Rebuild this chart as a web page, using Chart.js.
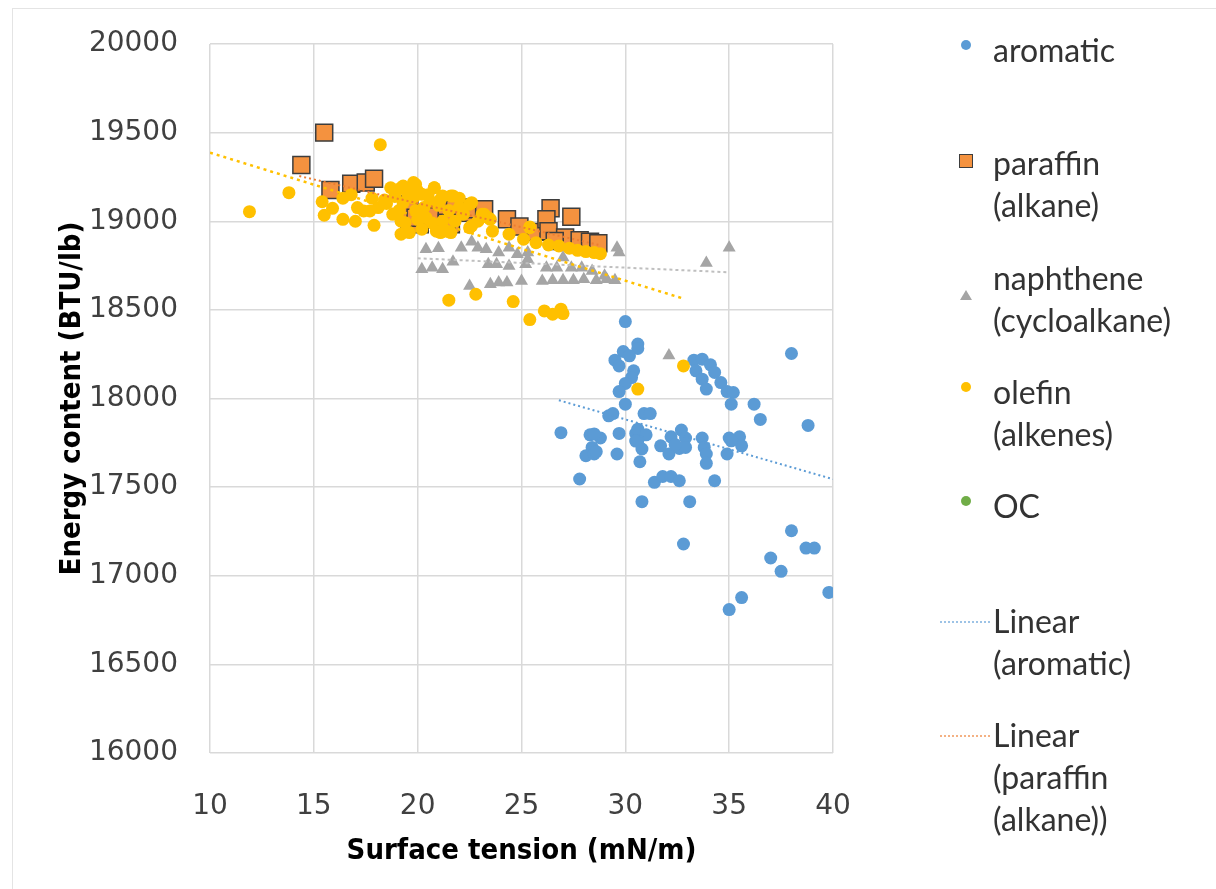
<!DOCTYPE html>
<html><head><meta charset="utf-8">
<script src="https://cdn.jsdelivr.net/npm/chart.js@4"></script>
<style>
html,body{margin:0;padding:0;background:#fff;width:1216px;height:889px;overflow:hidden;}
#frame{position:absolute;left:12px;top:8px;width:1204px;height:881px;border-top:1px solid #e4e4e4;border-left:1px solid #e4e4e4;box-sizing:border-box;}
#wrap{position:absolute;left:0;top:0;width:880px;height:889px;}
#legend{position:absolute;left:0;top:0;width:1216px;height:889px;font-family:Lato,'Open Sans',sans-serif;font-size:32px;color:#333;}
.lt{position:absolute;left:993px;line-height:42px;white-space:pre;}
.mk{position:absolute;}
</style>
</head><body>
<div id="frame"></div>
<div id="wrap"><canvas id="c" width="880" height="889"></canvas></div>
<div id="legend"></div>
<script>
// ---- data (x: surface tension mN/m, y: energy content BTU/lb) ----
const aromatic = [
[30.0,18434],[30.6,18307],[30.6,18282],[29.9,18265],[29.5,18216],[30.2,18241],[29.7,18184],[30.4,18156],
[30.3,18118],[30.0,18085],[29.7,18039],[30.0,17968],[29.2,17902],[29.4,17915],[30.9,17915],[31.2,17915],
[26.9,17807],[28.3,17795],[28.8,17777],[28.4,17724],[28.1,17677],[28.5,17687],[29.7,17803],[29.6,17687],
[30.5,17803],[30.6,17827],[31.0,17795],[30.6,17761],[30.8,17715],[30.7,17643],[27.8,17546],[31.7,17733],
[32.2,17784],[32.7,17822],[32.9,17777],[32.1,17687],[32.6,17718],[32.9,17724],[33.7,17777],[33.8,17724],
[33.9,17687],[33.9,17634],[34.3,17536],[31.4,17527],[31.8,17560],[32.2,17560],[32.6,17536],[30.8,17418],
[33.1,17418],[32.8,17179],[34.9,17687],[35.0,17777],[35.5,17784],[35.6,17733],[35.1,17761],[33.3,18216],
[33.7,18222],[33.4,18156],[34.1,18190],[34.3,18147],[33.7,18109],[33.9,18053],[34.6,18090],[34.9,18039],
[35.2,18034],[35.1,17968],[36.2,17968],[36.5,17882],[38.0,18254],[38.8,17848],[38.0,17254],[38.7,17156],
[39.1,17156],[37.0,17100],[37.5,17025],[39.8,16906],[35.6,16877],[35.0,16809],[28.5,17800],[28.6,17700],
[30.5,17760],[32.4,17740]
];
const paraffin = [
[14.4,19317],[15.5,19500],[15.8,19176],[16.8,19212],[17.5,19218],[17.9,19240],[19.6,19077],[19.5,19096],
[20.8,19028],[21.4,19077],[22.0,19077],[22.4,19048],[22.7,19068],[19.6,19000],[20.1,18983],[21.6,18983],
[19.9,19020],[21.8,19068],[21.4,18992],[23.2,19068],[24.3,19011],[24.9,18970],[25.7,18940],[26.4,19073],
[26.2,19011],[26.3,18944],[27.4,19025],[27.1,18908],[27.8,18893],[28.3,18885],[28.7,18876],[26.6,18889]
];
const naphthene = [
[20.4,18842],[21.0,18848],[22.1,18851],[22.6,18885],[22.9,18851],[23.3,18842],[23.9,18823],[24.4,18851],
[24.8,18814],[25.3,18823],[29.6,18851],[29.7,18823],[20.2,18729],[20.7,18738],[21.2,18729],[21.7,18772],
[23.4,18758],[23.8,18758],[24.4,18748],[25.2,18758],[25.3,18786],[26.2,18738],[26.7,18738],[27.0,18795],
[27.4,18738],[27.9,18738],[28.4,18720],[29.0,18692],[29.5,18667],[22.5,18635],[23.5,18645],[23.9,18654],
[24.3,18654],[25.0,18663],[26.0,18663],[26.5,18667],[27.0,18667],[27.5,18667],[28.0,18673],[28.6,18667],
[29.1,18673],[33.9,18765],[35.0,18850],[32.1,18242]
];
const olefin = [
[11.9,19054],[13.8,19161],[18.2,19432],[15.4,19110],[15.5,19034],[15.9,19073],[16.4,19011],[16.4,19130],
[16.8,19150],[17.0,19000],[17.9,18977],[17.8,19130],[17.1,19077],[17.4,19058],[17.7,19058],[18.1,19077],
[18.7,19189],[18.8,19039],[19.2,19189],[19.3,19105],[19.9,19208],[19.8,19133],[19.2,18927],[19.6,18936],
[19.4,18992],[20.2,19152],[20.3,19077],[20.2,18955],[20.8,19189],[20.6,19114],[21.1,19124],[20.9,18944],
[21.4,18944],[21.2,19000],[21.7,19143],[22.0,19077],[22.6,19105],[22.5,18964],[22.6,18974],[23.2,19039],
[23.5,19011],[23.6,18944],[24.4,18927],[25.1,18899],[25.4,18968],[25.7,18879],[26.3,18866],[26.8,18861],
[27.3,18848],[27.7,18836],[28.1,18829],[28.5,18823],[28.8,18817],[21.5,18555],[22.8,18588],[24.6,18547],
[25.4,18445],[26.1,18494],[26.5,18476],[26.9,18504],[27.0,18479],[30.6,18053],[32.8,18184],[19.3,19199],
[19.8,19218],[20.8,19189],[21.2,19143],[21.6,19143],[22.0,19130],[22.5,19096],[19.2,19000],[21.1,18936],
[21.6,18936],[23.1,19039],[23.4,19020],[20.0,19011],[25.4,18964],[19.5,19160],[20.0,19170],[20.5,19150],
[21.0,19090],[21.5,19060],[19.9,19060],[20.4,19020],[22.2,19040],[22.9,19000],[21.8,19000],[20.7,18990],
[18.4,19120],[18.9,19140],[19.1,19060],[18.5,19100]
];
const oc = [];
// linear trendlines (end points)
const trendAromatic = [[26.8,17990],[40.0,17545]];
const trendParaffin = [[14.3,19255],[28.7,18867]];
const trendOlefin = [[10.0,19387],[32.7,18567]];
const trendNaphthene = [[20.0,18791],[35.0,18712]];
// axes
const xTicks = [10,15,20,25,30,35,40];
const yTicks = [16000,16500,17000,17500,18000,18500,19000,19500,20000];
const xTitle = 'Surface tension (mN/m)';
const yTitle = 'Energy content (BTU/lb)';
const legendItems = [
  {text:'aromatic', marker:'circle', color:'#5B9BD5'},
  {text:'paraffin\n(alkane)', marker:'square', color:'#F4923F'},
  {text:'naphthene\n(cycloalkane)', marker:'triangle', color:'#A5A5A5'},
  {text:'olefin\n(alkenes)', marker:'circle', color:'#FFC000'},
  {text:'OC', marker:'circle', color:'#70AD47'},
  {text:'Linear\n(aromatic)', marker:'line', color:'#9DC3E6'},
  {text:'Linear\n(paraffin\n(alkane))', marker:'line', color:'#F4B183'}
];

const pts = a => a.map(([x,y]) => ({x, y}));
const tickFont = {family:'DejaVu Sans', size:28};
const titleFont = {family:"'Liberation Sans Narrow','DejaVu Sans Condensed',sans-serif", size:29, weight:'bold'};

new Chart(document.getElementById('c'), {
  type:'scatter',
  data:{datasets:[
    {label:'aromatic', data:pts(aromatic), pointStyle:'circle', pointRadius:6.5, backgroundColor:'#5B9BD5', borderWidth:0, order:5},
    {label:'paraffin (alkane)', data:pts(paraffin), pointStyle:'rect', pointRadius:12, backgroundColor:'#F4923F', borderColor:'#3d3d3d', borderWidth:1.5, order:4},
    {label:'naphthene (cycloalkane)', data:pts(naphthene), pointStyle:'triangle', pointRadius:7.5, backgroundColor:'#A5A5A5', borderWidth:0, order:3},
    {label:'olefin (alkenes)', data:pts(olefin), pointStyle:'circle', pointRadius:6.5, backgroundColor:'#FFC000', borderWidth:0, order:2},
    {label:'OC', data:pts(oc), pointStyle:'circle', pointRadius:6.5, backgroundColor:'#70AD47', borderWidth:0, order:1},
    {label:'Linear (aromatic)', data:pts(trendAromatic), showLine:true, pointRadius:0, borderColor:'#5B9BD5', borderWidth:2, borderDash:[2,3], order:0},
    {label:'Linear (paraffin (alkane))', data:pts(trendParaffin), showLine:true, pointRadius:0, borderColor:'#ED7D31', borderWidth:2, borderDash:[2,3], order:0},
    {label:'Linear (olefin (alkenes))', data:pts(trendOlefin), showLine:true, pointRadius:0, borderColor:'#FFC000', borderWidth:2.5, borderDash:[3,4], order:0},
    {label:'Linear (naphthene (cycloalkane))', data:pts(trendNaphthene), showLine:true, pointRadius:0, borderColor:'#BFBFBF', borderWidth:2, borderDash:[3,3], order:0}
  ]},
  options:{
    animation:false, responsive:false, events:[],
    plugins:{legend:{display:false}, tooltip:{enabled:false}},
    layout:{padding:{left:0, right:47, top:44, bottom:0}},
    scales:{
      x:{type:'linear', min:xTicks[0], max:xTicks[xTicks.length-1],
         afterBuildTicks:s=>{s.ticks = xTicks.map(v=>({value:v}));},
         ticks:{font:tickFont, color:'#404040', padding:37, callback:v=>String(v)},
         grid:{color:'#D9D9D9', lineWidth:1.5, drawTicks:false},
         border:{display:false},
         title:{display:true, text:xTitle, font:titleFont, color:'#000', padding:{top:0,bottom:20}},
         afterFit:s=>{s.height=136; s.paddingLeft=0; s.paddingRight=0;}},
      y:{type:'linear', min:yTicks[0], max:yTicks[yTicks.length-1],
         afterBuildTicks:s=>{s.ticks = yTicks.map(v=>({value:v}));},
         ticks:{font:tickFont, color:'#404040', padding:32, callback:v=>String(v)},
         grid:{color:'#D9D9D9', lineWidth:1.5, drawTicks:false},
         border:{display:false},
         title:{display:true, text:yTitle, font:titleFont, color:'#000', padding:{top:55,bottom:0}},
         afterFit:s=>{s.width=210; s.paddingTop=0; s.paddingBottom=0;}}
    }
  }
});

// ---- HTML legend ----
const lg = document.getElementById('legend');
const itemCenters = [50, 163, 278, 392, 506, 621, 735];
legendItems.forEach((it, i) => {
  const cy = itemCenters[i];
  const t = document.createElement('div');
  t.className = 'lt'; t.style.top = (cy - 21) + 'px'; t.textContent = it.text;
  lg.appendChild(t);
  const m = document.createElement('div'); m.className = 'mk';
  if (it.marker === 'circle') {
    Object.assign(m.style, {left:'961px', top:(cy-10)+'px', width:'10px', height:'10px', borderRadius:'50%', background:it.color});
  } else if (it.marker === 'square') {
    Object.assign(m.style, {left:'959px', top:(cy-9)+'px', width:'14px', height:'14px', background:it.color, border:'1.5px solid #3d3d3d', boxSizing:'border-box'});
  } else if (it.marker === 'triangle') {
    m.innerHTML = '<svg width="12" height="10"><polygon points="6,0 12,10 0,10" fill="'+it.color+'"/></svg>';
    Object.assign(m.style, {left:'960px', top:(cy-10)+'px', width:'12px', height:'10px'});
  } else {
    Object.assign(m.style, {left:'940px', top:(cy)+'px', width:'50px', height:'0px', borderTop:'2px dotted '+it.color});
  }
  lg.appendChild(m);
});
</script>
</body></html>
